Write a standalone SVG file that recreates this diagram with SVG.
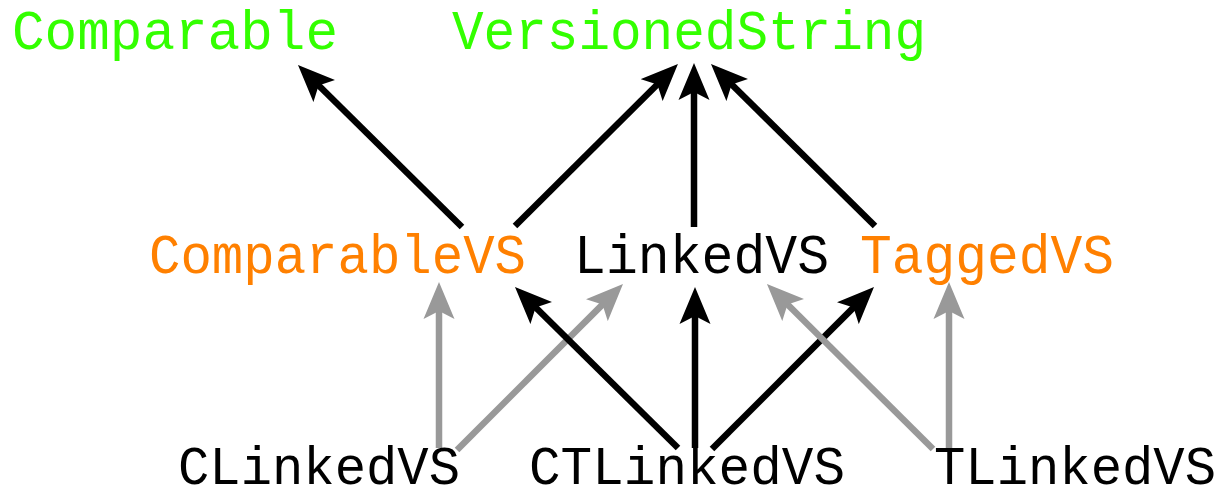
<svg xmlns="http://www.w3.org/2000/svg" width="1219" height="500" viewBox="0 0 1219 500">
<style>
text{font-family:"Liberation Mono","DejaVu Sans Mono",monospace;font-size:56px}
.b{font-size:53px}
.g{fill:#33ff00}.o{fill:#ff8000}.k{fill:#000}
.e{fill:none;stroke-width:6.5;stroke-linecap:butt}
.eb{stroke:#000;marker-end:url(#ab)}
.eg{stroke:#999;marker-end:url(#ag)}
</style>
<defs>
<marker id="ab" markerUnits="userSpaceOnUse" viewBox="0 -16 38 32" markerWidth="38" markerHeight="32" refX="10" refY="0" orient="auto"><path d="M0,-15.5 L37,0 L0,15.5 L8,0 Z" fill="#000"/></marker>
<marker id="ag" markerUnits="userSpaceOnUse" viewBox="0 -16 38 32" markerWidth="38" markerHeight="32" refX="10" refY="0" orient="auto"><path d="M0,-15.5 L37,0 L0,15.5 L8,0 Z" fill="#999"/></marker>
</defs>
<rect width="1219" height="500" fill="#fff"/>
<g id="connectors">
<line class="e eb" x1="462" y1="227" x2="317.2" y2="84"/>
<line class="e eb" x1="515" y1="226" x2="658.8" y2="83"/>
<line class="e eb" x1="694" y1="227" x2="694" y2="90"/>
<line class="e eb" x1="875" y1="226" x2="730.2" y2="83"/>
<line class="e eg" x1="439" y1="448" x2="439" y2="309"/>
<line class="e eg" x1="457" y1="450" x2="603.9" y2="303.1"/>
<line class="e eb" x1="678" y1="448" x2="534.2" y2="306"/>
<line class="e eb" x1="695" y1="448" x2="695" y2="314"/>
<line class="e eb" x1="712" y1="449" x2="854.9" y2="306.1"/>
<line class="e eg" x1="933" y1="449" x2="786.1" y2="303"/>
<line class="e eg" x1="949" y1="449" x2="949" y2="309"/>
</g>
<g id="Comparable"><text class="g" x="12" y="49" textLength="326" lengthAdjust="spacingAndGlyphs">Comparable</text></g>
<g id="VersionedString"><text class="g" x="452" y="49" textLength="474" lengthAdjust="spacingAndGlyphs">VersionedString</text></g>
<g id="ComparableVS"><text class="o" x="149" y="273" textLength="377" lengthAdjust="spacingAndGlyphs">ComparableVS</text></g>
<g id="LinkedVS"><text class="k" x="574" y="273" textLength="255" lengthAdjust="spacingAndGlyphs">LinkedVS</text></g>
<g id="TaggedVS"><text class="o" x="860" y="273" textLength="254" lengthAdjust="spacingAndGlyphs">TaggedVS</text></g>
<g id="CLinkedVS"><text class="k b" x="178" y="484" textLength="282" lengthAdjust="spacingAndGlyphs">CLinkedVS</text></g>
<g id="CTLinkedVS"><text class="k b" x="529" y="484" textLength="316" lengthAdjust="spacingAndGlyphs">CTLinkedVS</text></g>
<g id="TLinkedVS"><text class="k b" x="934" y="484" textLength="282" lengthAdjust="spacingAndGlyphs">TLinkedVS</text></g>
</svg>
